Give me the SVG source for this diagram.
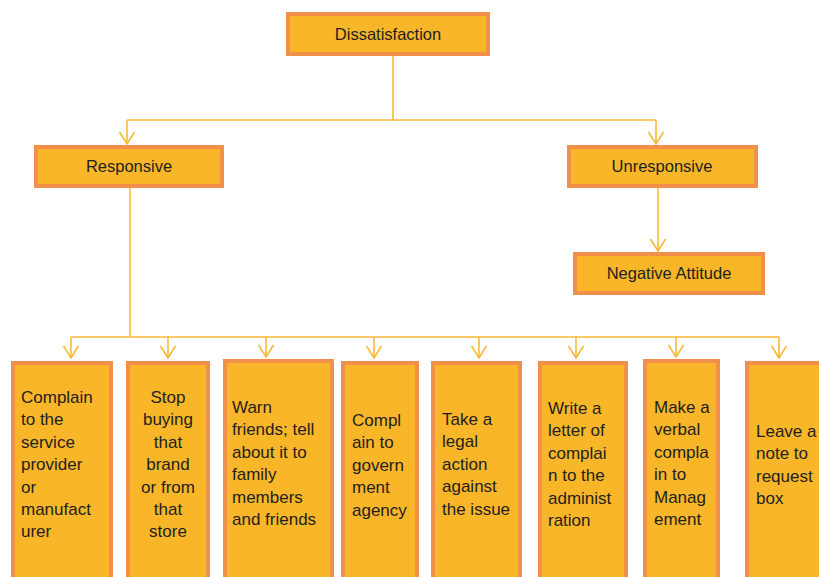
<svg xmlns="http://www.w3.org/2000/svg" width="819" height="577" viewBox="0 0 819 577">
<defs>
<style>
.box{fill:#F8B628;stroke:#F0904A;stroke-width:4}
.t{font-family:"Liberation Sans",Arial,sans-serif;font-size:16.5px;fill:#231F20}
.b{font-family:"Liberation Sans",Arial,sans-serif;font-size:17px;fill:#231F20}
.c{fill:none;stroke:#F9B938;stroke-width:1.6}
</style>
<marker id="ah" viewBox="0 0 14 18" refX="13" refY="9" markerWidth="14" markerHeight="18" markerUnits="userSpaceOnUse" orient="auto">
<path d="M1,1.5 L13,9 L1,16.5" fill="none" stroke="#F9B938" stroke-width="1.6"/>
</marker>
</defs>
<rect width="819" height="577" fill="#fff"/>
<g id="connectors">
<path class="c" d="M393,54 V120 H127"/>
<path class="c" d="M393,120 H656"/>
<line class="c" x1="127" y1="120" x2="127" y2="144" marker-end="url(#ah)"/>
<line class="c" x1="656" y1="120" x2="656" y2="144" marker-end="url(#ah)"/>
<line class="c" x1="658" y1="187" x2="658" y2="251" marker-end="url(#ah)"/>
<path class="c" d="M130,187 V337"/>
<path class="c" d="M71,337 H779"/>
<line class="c" x1="71" y1="337" x2="71" y2="358" marker-end="url(#ah)"/>
<line class="c" x1="168" y1="337" x2="168" y2="358" marker-end="url(#ah)"/>
<line class="c" x1="266" y1="337" x2="266" y2="357" marker-end="url(#ah)"/>
<line class="c" x1="374" y1="337" x2="374" y2="358" marker-end="url(#ah)"/>
<line class="c" x1="479" y1="337" x2="479" y2="358" marker-end="url(#ah)"/>
<line class="c" x1="576" y1="337" x2="576" y2="358" marker-end="url(#ah)"/>
<line class="c" x1="676" y1="337" x2="676" y2="357" marker-end="url(#ah)"/>
<line class="c" x1="779" y1="337" x2="779" y2="358" marker-end="url(#ah)"/>
</g>
<g id="dissatisfaction">
<rect class="box" x="288" y="14" width="200" height="40"/>
<text class="t" x="388" y="40" text-anchor="middle">Dissatisfaction</text>
</g>
<g id="responsive">
<rect class="box" x="36" y="147" width="186" height="39"/>
<text class="t" x="129" y="172" text-anchor="middle">Responsive</text>
</g>
<g id="unresponsive">
<rect class="box" x="569" y="147" width="187" height="39"/>
<text class="t" x="662" y="172" text-anchor="middle">Unresponsive</text>
</g>
<g id="negative-attitude">
<rect class="box" x="575" y="254" width="188" height="39"/>
<text class="t" x="669" y="279" text-anchor="middle">Negative Attitude</text>
</g>
<g id="box1">
<rect class="box" x="13" y="363" width="98" height="230"/>
<text class="b" x="21" y="403"><tspan x="21">Complain</tspan><tspan x="21" dy="22.4">to the</tspan><tspan x="21" dy="22.4">service</tspan><tspan x="21" dy="22.4">provider</tspan><tspan x="21" dy="22.4">or</tspan><tspan x="21" dy="22.4">manufact</tspan><tspan x="21" dy="22.4">urer</tspan></text>
</g>
<g id="box2">
<rect class="box" x="128" y="363" width="80" height="230"/>
<text class="b" x="168" y="403" text-anchor="middle"><tspan x="168">Stop</tspan><tspan x="168" dy="22.4">buying</tspan><tspan x="168" dy="22.4">that</tspan><tspan x="168" dy="22.4">brand</tspan><tspan x="168" dy="22.4">or from</tspan><tspan x="168" dy="22.4">that</tspan><tspan x="168" dy="22.4">store</tspan></text>
</g>
<g id="box3">
<rect class="box" x="225" y="361" width="107" height="232"/>
<text class="b" x="232" y="413"><tspan x="232">Warn</tspan><tspan x="232" dy="22.4">friends; tell</tspan><tspan x="232" dy="22.4">about it to</tspan><tspan x="232" dy="22.4">family</tspan><tspan x="232" dy="22.4">members</tspan><tspan x="232" dy="22.4">and friends</tspan></text>
</g>
<g id="box4">
<rect class="box" x="343" y="363" width="74" height="230"/>
<text class="b" x="352" y="426"><tspan x="352">Compl</tspan><tspan x="352" dy="22.4">ain to</tspan><tspan x="352" dy="22.4">govern</tspan><tspan x="352" dy="22.4">ment</tspan><tspan x="352" dy="22.4">agency</tspan></text>
</g>
<g id="box5">
<rect class="box" x="433" y="363" width="87" height="230"/>
<text class="b" x="442" y="425"><tspan x="442">Take a</tspan><tspan x="442" dy="22.4">legal</tspan><tspan x="442" dy="22.4">action</tspan><tspan x="442" dy="22.4">against</tspan><tspan x="442" dy="22.4">the issue</tspan></text>
</g>
<g id="box6">
<rect class="box" x="540" y="363" width="86" height="230"/>
<text class="b" x="548" y="414"><tspan x="548">Write a</tspan><tspan x="548" dy="22.4">letter of</tspan><tspan x="548" dy="22.4">complai</tspan><tspan x="548" dy="22.4">n to the</tspan><tspan x="548" dy="22.4">administ</tspan><tspan x="548" dy="22.4">ration</tspan></text>
</g>
<g id="box7">
<rect class="box" x="645" y="361" width="73" height="232"/>
<text class="b" x="654" y="413"><tspan x="654">Make a</tspan><tspan x="654" dy="22.4">verbal</tspan><tspan x="654" dy="22.4">compla</tspan><tspan x="654" dy="22.4">in to</tspan><tspan x="654" dy="22.4">Manag</tspan><tspan x="654" dy="22.4">ement</tspan></text>
</g>
<g id="box8">
<rect class="box" x="747" y="363" width="90" height="230"/>
<text class="b" x="756" y="437"><tspan x="756">Leave a</tspan><tspan x="756" dy="22.4">note to</tspan><tspan x="756" dy="22.4">request</tspan><tspan x="756" dy="22.4">box</tspan></text>
</g>
</svg>
